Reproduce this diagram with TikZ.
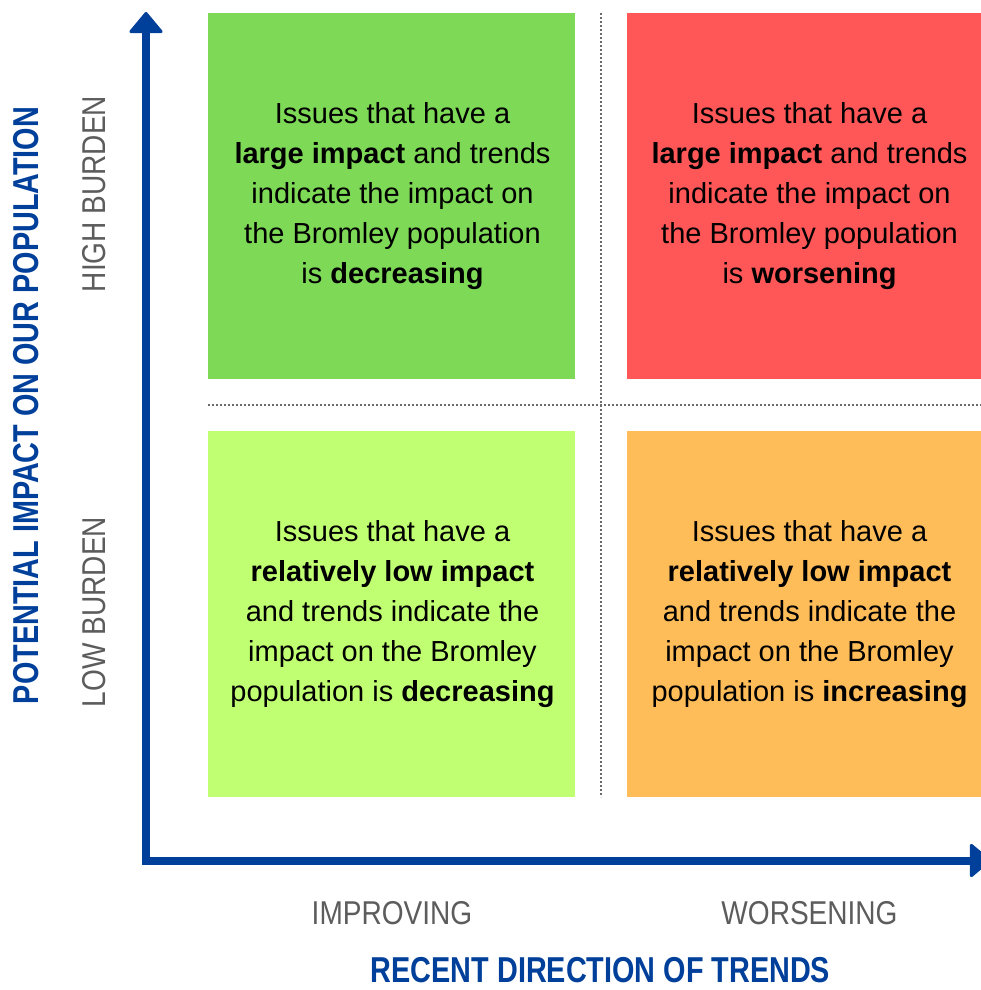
\documentclass[tikz,border=0pt]{standalone}
\usepackage{fontspec}
\setmainfont{Liberation Sans}
\newfontfamily\labelfont[FakeStretch=0.85]{Liberation Sans}
\newfontfamily\titlefont[FakeStretch=0.8]{Liberation Sans}
\usetikzlibrary{arrows.meta}
\definecolor{qgreen}{HTML}{7ED957}
\definecolor{qred}{HTML}{FF5757}
\definecolor{qlime}{HTML}{C1FF72}
\definecolor{qorange}{HTML}{FFBD59}
\definecolor{axisblue}{HTML}{003F9A}
\definecolor{labelgray}{HTML}{5C5C5C}
\definecolor{dotgray}{HTML}{6A6A6A}
\tikzset{
  quadtext/.style={align=center, inner sep=0pt, font=\fontsize{29}{40}\selectfont, text=black},
  axislabel/.style={inner sep=0pt, font=\labelfont\fontsize{33}{36}\selectfont, text=labelgray},
  axistitle/.style={inner sep=0pt, font=\titlefont\bfseries\fontsize{36}{40}\selectfont, text=axisblue},
  divider/.style={draw=dotgray, line width=2pt, dash pattern=on 2pt off 2pt},
  axisline/.style={draw=axisblue, line width=8pt, line join=miter,
    arrows={Triangle[round, width=36pt, length=22pt, line width=3pt]-Triangle[round, width=36pt, length=22pt, line width=3pt]}}
}
\begin{document}
\begin{tikzpicture}[x=1pt,y=-1pt]
\useasboundingbox (0,0) rectangle (981,990);
% quadrants
\fill[qgreen] (208,13) rectangle (575,379);
\fill[qred] (627,13) rectangle (990,379);
\fill[qlime] (208,431) rectangle (575,797);
\fill[qorange] (627,431) rectangle (990,797);
% dividers
\coordinate (vtop) at (601,13);
\coordinate (vbot) at (601,797);
\coordinate (hleft) at (208,405);
\coordinate (hright) at (981,405);
\draw[divider] (vtop) -- (vbot);
\draw[divider] (hleft) -- (hright);
% axes
\coordinate (ytip) at (146,12);
\coordinate (corner) at (146,860.5);
\coordinate (xtip) at (991,860.5);
\draw[axisline] (ytip) -- (corner) -- (xtip);
% texts
\node[quadtext] (tl) at (392.5,196.5) {Issues that have a\\\textbf{large impact} and trends\\indicate the impact on\\the Bromley population\\is \textbf{decreasing}};
\node[quadtext] (tr) at (809.5,196.5) {Issues that have a\\\textbf{large impact} and trends\\indicate the impact on\\the Bromley population\\is \textbf{worsening}};
\node[quadtext] (bl) at (392.5,614.5) {Issues that have a\\\textbf{relatively low impact}\\and trends indicate the\\impact on the Bromley\\population is \textbf{decreasing}};
\node[quadtext] (br) at (809.5,614.5) {Issues that have a\\\textbf{relatively low impact}\\and trends indicate the\\impact on the Bromley\\population is \textbf{increasing}};
% axis labels
\node[axislabel, rotate=90, anchor=base] (high) at (105,194) {HIGH BURDEN};
\node[axislabel, rotate=90, anchor=base] (low) at (105,612) {LOW BURDEN};
\node[axislabel, anchor=base] (impr) at (392,924) {IMPROVING};
\node[axislabel, anchor=base] (wors) at (809.5,924) {WORSENING};
\node[axistitle, rotate=90, anchor=base] (ytitle) at (38,405.5) {POTENTIAL IMPACT ON OUR POPULATION};
\node[axistitle, anchor=base] (xtitle) at (600.5,982) {RECENT DIRECTION OF TRENDS};
\end{tikzpicture}
\end{document}
